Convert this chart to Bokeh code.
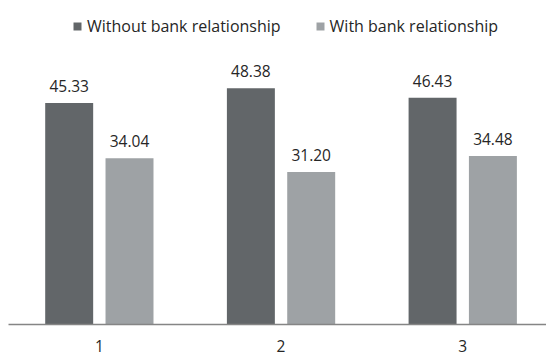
from bokeh.plotting import figure
from bokeh.models import ColumnDataSource, Range1d, FixedTicker, LabelSet, Legend, LegendItem
from bokeh.core.properties import value
from bokeh.transform import dodge
from bokeh.embed import file_html
from bokeh.resources import INLINE

categories = ["1", "2", "3"]
without_rel = [45.33, 48.38, 46.43]
with_rel = [34.04, 31.20, 34.48]
series_names = ["Without bank relationship", "With bank relationship"]

DARK = "#626669"
LIGHT = "#9ea2a5"
TEXT = "#262626"
FONT = "Open Sans"
FS = "15.5px"

xpos = [i + 1 for i in range(len(categories))]
src = ColumnDataSource(dict(
    x=xpos,
    a=without_rel,
    b=with_rel,
    a_lbl=["%.2f" % v for v in without_rel],
    b_lbl=["%.2f" % v for v in with_rel],
))

p = figure(width=546, height=359, output_backend="svg", toolbar_location=None,
           x_range=Range1d(0.5, 3.461), y_range=Range1d(0, 66.33),
           min_border_left=8, min_border_right=0, min_border_top=0, min_border_bottom=35)
p.outline_line_color = None
p.background_fill_color = "white"
p.border_fill_color = "white"
p.xgrid.visible = False
p.ygrid.visible = False
p.yaxis.visible = False

r1 = p.vbar(x=dodge("x", -0.166, range=p.x_range), top="a", width=0.264, source=src,
            fill_color=DARK, line_color=None)
r2 = p.vbar(x=dodge("x", 0.166, range=p.x_range), top="b", width=0.264, source=src,
            fill_color=LIGHT, line_color=None)

for col, lbl, off in (("a", "a_lbl", -0.166), ("b", "b_lbl", 0.166)):
    ls = LabelSet(x=dodge("x", off, range=p.x_range), y=col, text=lbl, source=src,
                  text_align="center", text_baseline="alphabetic", y_offset=11,
                  text_font=value(FONT), text_font_size=value(FS), text_color=TEXT)
    p.add_layout(ls)

ax = p.xaxis[0]
ax.ticker = FixedTicker(ticks=xpos)
ax.major_label_overrides = {x: c for x, c in zip(xpos, categories)}
ax.major_tick_line_color = None
ax.minor_tick_line_color = None
ax.axis_line_color = "#858585"
ax.axis_line_width = 1.5
ax.major_label_text_font = FONT
ax.major_label_text_font_size = FS
ax.major_label_text_color = TEXT
ax.major_label_standoff = 9

legend = Legend(items=[LegendItem(label=series_names[0], renderers=[r1]),
                       LegendItem(label=series_names[1], renderers=[r2])],
                orientation="horizontal", location=(64, 287),
                glyph_width=10, glyph_height=10, label_standoff=5, spacing=34,
                padding=0, margin=0, border_line_alpha=0, background_fill_alpha=0,
                label_text_font=FONT, label_text_font_size="16px", label_text_color=TEXT)
p.add_layout(legend)

open("out.html", "w").write(file_html(p, INLINE))
